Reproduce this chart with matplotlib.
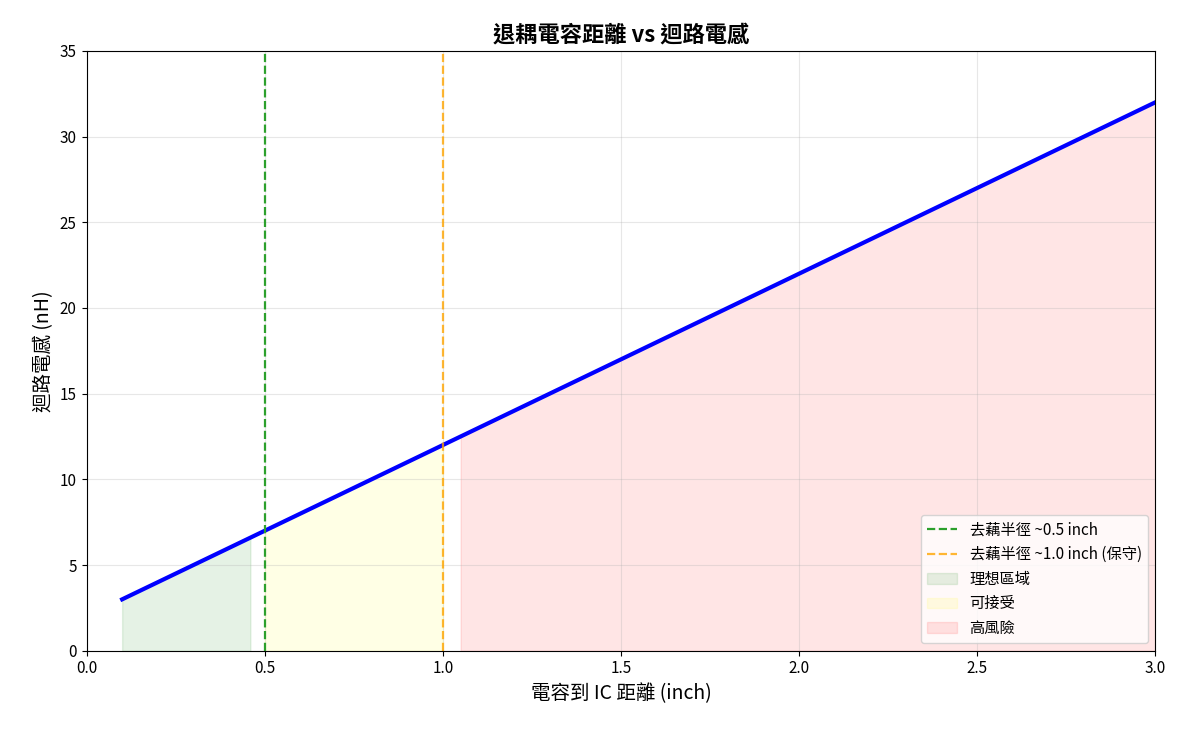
import numpy as np
import matplotlib
matplotlib.use("Agg")
import matplotlib.pyplot as plt

plt.rcParams['font.family'] = ['Noto Sans CJK TC', 'DejaVu Sans']

# Data
dist = [0.1, 0.46, 0.5, 1.0, 1.05, 3.0]          # inch
induct = [3.0, 6.6, 7.0, 12.0, 12.5, 32.0]      # nH

ideal_x = [0.1, 0.46]
ideal_y = [3.0, 6.6]
ok_x = [0.5, 1.0]
ok_y = [7.0, 12.0]
risk_x = [1.05, 3.0]
risk_y = [12.5, 32.0]

fig, ax = plt.subplots(figsize=(11.85, 7.37), dpi=100)

ax.plot(dist, induct, color="blue", linewidth=3)
ax.axvline(0.5, color="tab:green", linestyle="--", linewidth=1.6, label="去藕半徑 ~0.5 inch")
ax.axvline(1.0, color="orange", linestyle="--", linewidth=1.6, alpha=0.8, label="去藕半徑 ~1.0 inch (保守)")
ax.fill_between(ideal_x, 0, ideal_y, color="green", alpha=0.1, label="理想區域")
ax.fill_between(ok_x, 0, ok_y, color="yellow", alpha=0.1, label="可接受")
ax.fill_between(risk_x, 0, risk_y, color="red", alpha=0.1, label="高風險")

ax.set_xlim(0, 3.0)
ax.set_ylim(0, 35)
ax.grid(True, alpha=0.3)
ax.set_xlabel("電容到 IC 距離 (inch)", fontsize=14)
ax.set_ylabel("迴路電感 (nH)", fontsize=14)
ax.set_title("退耦電容距離 vs 迴路電感", fontsize=16, fontweight="bold")
ax.tick_params(labelsize=11)
ax.legend(loc="lower right", fontsize=11)

fig.subplots_adjust(left=0.073, right=0.975, top=0.931, bottom=0.117)
fig.savefig("out.png")
